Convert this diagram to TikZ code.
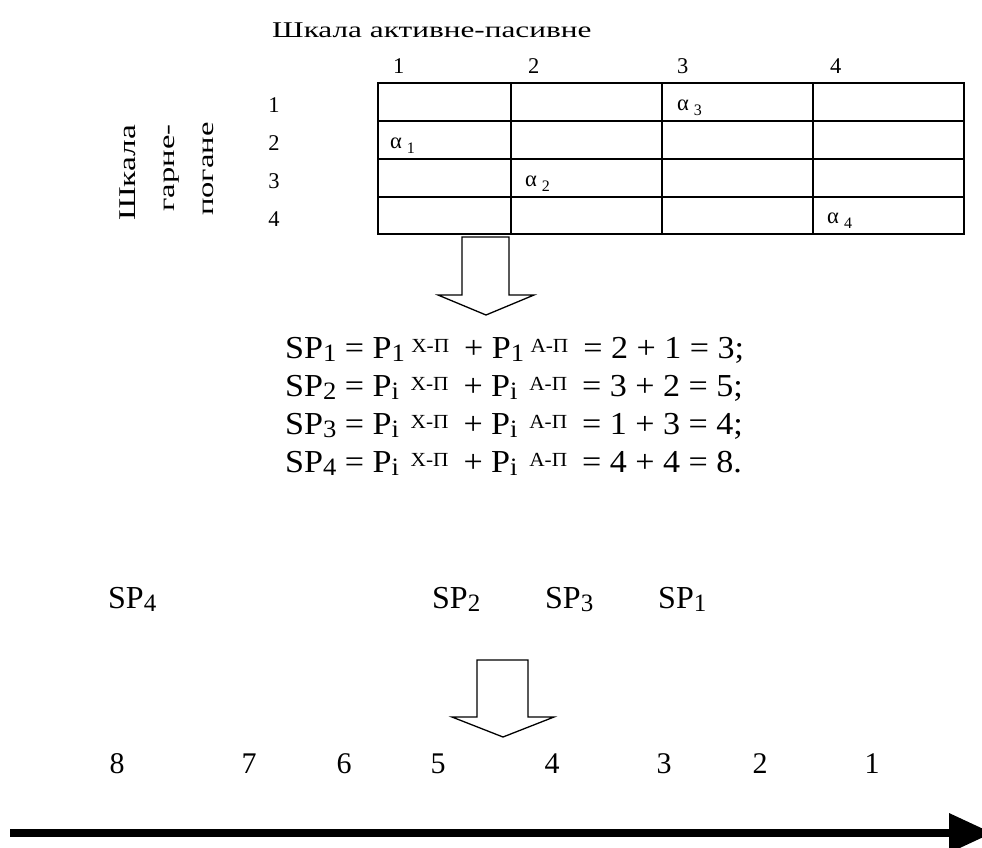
\documentclass[tikz,border=0pt]{standalone}
\usepackage{graphicx}
\usepackage{fontspec}
\setmainfont{Liberation Serif}
\usetikzlibrary{arrows}
\newcommand{\ScaleArrowType}{latex}
\newcommand{\FormulaSize}{\fontsize{32}{38}\selectfont}
\newcommand{\CellSize}{\fontsize{22.5}{27}\selectfont}
\newcommand{\lo}[1]{\raisebox{-3pt}{\fontsize{25}{25}\selectfont #1}}
\newcommand{\hi}[1]{\raisebox{6pt}{\fontsize{20}{20}\selectfont #1}}
\newcommand{\alfa}[1]{α\hspace{5pt}\raisebox{-5pt}{\fontsize{16}{16}\selectfont #1}}
\newcommand{\wide}[2]{\scalebox{#1}[1]{#2}}

\begin{document}
\begin{tikzpicture}[>=\ScaleArrowType,x=1pt,y=-1pt,inner sep=0pt,
                    grid/.style={line width=1.6pt},
                    hollow/.style={line width=1.3pt,line join=miter,fill=white}]
                \clip (0,0) rectangle (982,847);
                \useasboundingbox (0,0) rectangle (982,847);

                % table of the two scales
                \node[anchor=base west,font=\CellSize] (title) at (272,37)
                    {\wide{1.39}{Шкала активне-пасивне}};
                \draw[grid] (378,83) rectangle (964,234);
                \foreach \y in {121,159,197}
                    \draw[grid] (378,\y) -- (964,\y);
                \foreach \x in {511,662,813}
                    \draw[grid] (\x,83) -- (\x,234);
                \foreach \n/\x in {1/393,2/528,3/677,4/830}
                    \node[anchor=base west,font=\CellSize] (col\n) at (\x,73) {\n};
                \foreach \n/\y in {1/112,2/150,3/188,4/226}
                    \node[anchor=base,font=\CellSize] (row\n) at (274,\y) {\n};

                \node[anchor=center,rotate=90,font=\fontsize{24}{24}\selectfont]
                    (scale) at (128,173) {\wide{1.39}{Шкала}};
                \node[anchor=center,rotate=90,font=\CellSize]
                    (good) at (172,168) {\wide{1.45}{гарне-}};
                \node[anchor=center,rotate=90,font=\CellSize]
                    (bad) at (208,169) {\wide{1.45}{погане}};

                \node[anchor=base west,font=\CellSize] (a1) at (390,148) {\alfa{1}};
                \node[anchor=base west,font=\CellSize] (a2) at (525,186) {\alfa{2}};
                \node[anchor=base west,font=\CellSize] (a3) at (677,110) {\alfa{3}};
                \node[anchor=base west,font=\CellSize] (a4) at (827,223) {\alfa{4}};

                \draw[hollow] (462,237) -- (462,295) -- (438,295) -- (486,315)
                        -- (534,295) -- (509,295) -- (509,237) -- cycle;

                % sums of the ranks
                \node[anchor=base west,font=\FormulaSize] (sp1) at (285,358)
                    {\wide{1.065}{SP\lo{1} = P\lo{1}\hspace{6pt}\hi{Х-П}\hspace{6pt} + P\lo{1}\hspace{6pt}\hi{А-П}\hspace{6pt} = 2 + 1 = 3;}};
                \node[anchor=base west,font=\FormulaSize] (sp2) at (285,396)
                    {\wide{1.065}{SP\lo{2} = P\lo{i}\hspace{11pt}\hi{Х-П}\hspace{6pt} + P\lo{i}\hspace{11pt}\hi{А-П}\hspace{6pt} = 3 + 2 = 5;}};
                \node[anchor=base west,font=\FormulaSize] (sp3) at (285,434)
                    {\wide{1.065}{SP\lo{3} = P\lo{i}\hspace{11pt}\hi{Х-П}\hspace{6pt} + P\lo{i}\hspace{11pt}\hi{А-П}\hspace{6pt} = 1 + 3 = 4;}};
                \node[anchor=base west,font=\FormulaSize] (sp4) at (285,472)
                    {\wide{1.065}{SP\lo{4} = P\lo{i}\hspace{11pt}\hi{Х-П}\hspace{6pt} + P\lo{i}\hspace{11pt}\hi{А-П}\hspace{6pt} = 4 + 4 = 8.}};

                % order on the axis
                \foreach \n/\x in {4/108,2/432,3/545,1/658}
                    \node[anchor=base west,font=\FormulaSize] (lab\n) at (\x,608) {SP\lo{\n}};

                \draw[hollow] (477,660) -- (477,717) -- (452,717) -- (503,737)
                        -- (554,717) -- (528,717) -- (528,660) -- cycle;

                \foreach \n/\x in {8/117,7/249,6/344,5/438,4/552,3/664,2/760,1/872}
                    \node[anchor=base,font=\fontsize{30}{30}\selectfont] (rank\n) at (\x,773) {\n};

                \coordinate (axisB) at (10,833);
                \coordinate (axisE) at (949,833);
                \draw[line width=8pt] (axisB) -- (axisE);
                \fill (949,813) -- (992,833) -- (949,853) -- cycle;
            \end{tikzpicture}
\end{document}
